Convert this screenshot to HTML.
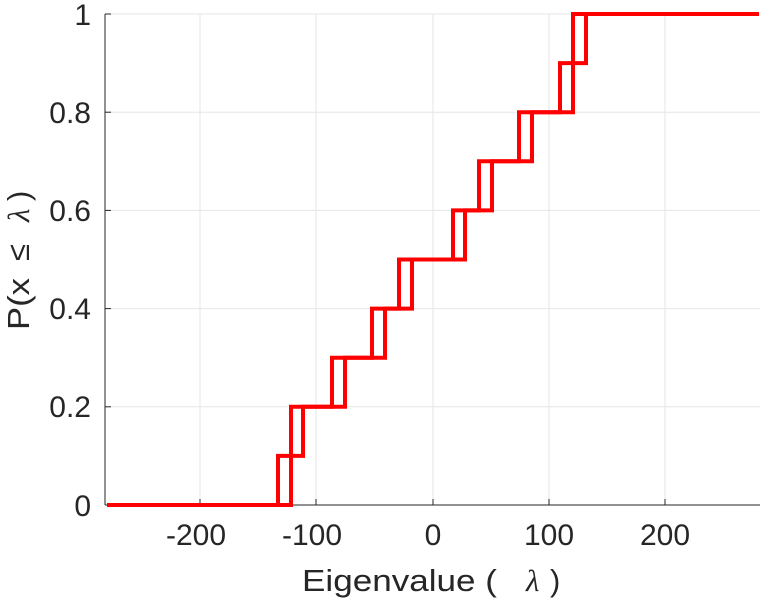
<!DOCTYPE html>
<html><head><meta charset="utf-8"><style>body{margin:0;background:#fff}svg{display:block}</style></head>
<body>
<svg width="763" height="600" xmlns="http://www.w3.org/2000/svg" font-family="Liberation Sans, sans-serif" fill="#262626">
<g stroke="#e6e6e6" stroke-width="1">
<line x1="200" y1="14" x2="200" y2="505"/><line x1="316" y1="14" x2="316" y2="505"/><line x1="433" y1="14" x2="433" y2="505"/><line x1="549" y1="14" x2="549" y2="505"/><line x1="665" y1="14" x2="665" y2="505"/>
<line x1="105" y1="14" x2="760" y2="14"/><line x1="105" y1="112.2" x2="760" y2="112.2"/><line x1="105" y1="210.4" x2="760" y2="210.4"/><line x1="105" y1="308.6" x2="760" y2="308.6"/><line x1="105" y1="406.8" x2="760" y2="406.8"/>
</g>
<g stroke="#262626" stroke-width="1">
<line x1="105" y1="14" x2="105" y2="505"/><line x1="105" y1="505" x2="760" y2="505"/>
<line x1="200" y1="505" x2="200" y2="499"/><line x1="316" y1="505" x2="316" y2="499"/><line x1="433" y1="505" x2="433" y2="499"/><line x1="549" y1="505" x2="549" y2="499"/><line x1="665" y1="505" x2="665" y2="499"/>
<line x1="105" y1="14" x2="111" y2="14"/><line x1="105" y1="112.2" x2="111" y2="112.2"/><line x1="105" y1="210.4" x2="111" y2="210.4"/><line x1="105" y1="308.6" x2="111" y2="308.6"/><line x1="105" y1="406.8" x2="111" y2="406.8"/>
</g>
<g fill="none" stroke="#ff0000" stroke-width="4">
<path d="M107,505 H278 V455.9 H291 V406.8 H332 V357.7 H372 V308.6 H399 V259.5 H453 V210.4 H479 V161.3 H519 V112.2 H560 V63.1 H573 V14 H759"/>
<path d="M107,505 H291 V455.9 H303 V406.8 H345 V357.7 H385 V308.6 H412 V259.5 H465 V210.4 H492 V161.3 H532 V112.2 H573 V63.1 H586 V14 H759"/>
</g>
<g font-size="30" text-anchor="end">
<text x="91" y="25">1</text><text x="91" y="123">0.8</text><text x="91" y="221">0.6</text><text x="91" y="319">0.4</text><text x="91" y="417">0.2</text><text x="91" y="516">0</text>
</g>
<g font-size="30" text-anchor="middle">
<text x="196" y="545">-200</text><text x="312" y="545">-100</text><text x="433" y="545">0</text><text x="549" y="545">100</text><text x="665" y="545">200</text>
</g>
<text x="302" y="591" font-size="31" textLength="195" lengthAdjust="spacingAndGlyphs">Eigenvalue (</text>
<text x="526" y="591" font-size="31" font-family="Liberation Serif, serif" font-style="italic">λ</text>
<text x="550" y="591" font-size="31">)</text>
<g transform="translate(29,0) rotate(-90)" font-size="31">
<text x="-330" y="0" textLength="52" lengthAdjust="spacingAndGlyphs">P(x</text>
<text x="-261" y="0">≤</text>
<text x="-222" y="0" font-family="Liberation Serif, serif" font-style="italic">λ</text>
<text x="-201" y="0">)</text>
</g>
</svg>
</body></html>
